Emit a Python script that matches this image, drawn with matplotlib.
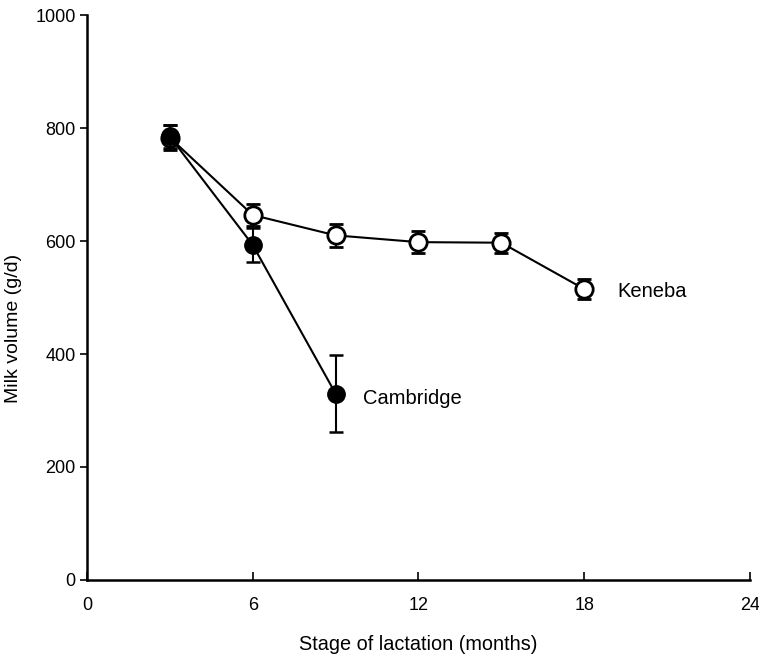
import matplotlib
matplotlib.use("Agg")
import matplotlib.pyplot as plt

plt.rcParams['font.family'] = ['Liberation Sans', 'DejaVu Sans']

# Stage of lactation (months)
keneba_x = [3, 6, 9, 12, 15, 18]
keneba_y = [783, 646, 610, 598, 597, 515]
keneba_err = [22, 20, 20, 19, 18, 18]

cambridge_x = [3, 6, 9]
cambridge_y = [785, 593, 330]
cambridge_err = [20, 30, 68]

xticks = [0, 6, 12, 18, 24]
yticks = [0, 200, 400, 600, 800, 1000]

fig = plt.figure(figsize=(7.59, 6.59), dpi=100)
ax = fig.add_axes([0.1146, 0.1199, 0.8734, 0.8573])

# Keneba (open circles)
ax.errorbar(keneba_x, keneba_y, yerr=keneba_err, color='black', marker='o',
            markersize=12.5, markerfacecolor='white', markeredgewidth=2, linewidth=1.5,
            elinewidth=1.5, capsize=5, capthick=1.8, zorder=3)
# Cambridge (filled circles), drawn on top
ax.errorbar(cambridge_x, cambridge_y, yerr=cambridge_err, color='black', marker='o',
            markersize=12.5, markerfacecolor='black', linewidth=1.5, elinewidth=1.5,
            capsize=5, capthick=1.8, zorder=4)

ax.text(10, 322, "Cambridge", fontsize=14.5, va='center', ha='left')
ax.text(19.2, 510, "Keneba", fontsize=14.5, va='center', ha='left')

ax.set_xlim(0, 24)
ax.set_ylim(0, 1000)
ax.set_xticks(xticks)
ax.set_yticks(yticks)
ax.tick_params(axis='x', direction='in', length=6, width=1.2, labelsize=13, pad=12)
ax.tick_params(axis='y', direction='out', length=5, width=1.2, labelsize=13, pad=3)
ax.spines['top'].set_visible(False)
ax.spines['right'].set_visible(False)
ax.spines['left'].set_linewidth(1.8)
ax.spines['bottom'].set_linewidth(1.8)
ax.set_xlabel("Stage of lactation (months)", fontsize=14.3)
ax.set_ylabel("Milk volume (g/d)", fontsize=14)
ax.xaxis.set_label_coords(0.5, -0.097)
ax.yaxis.set_label_coords(-0.098, 0.446)

fig.savefig("out.png", dpi=100)
